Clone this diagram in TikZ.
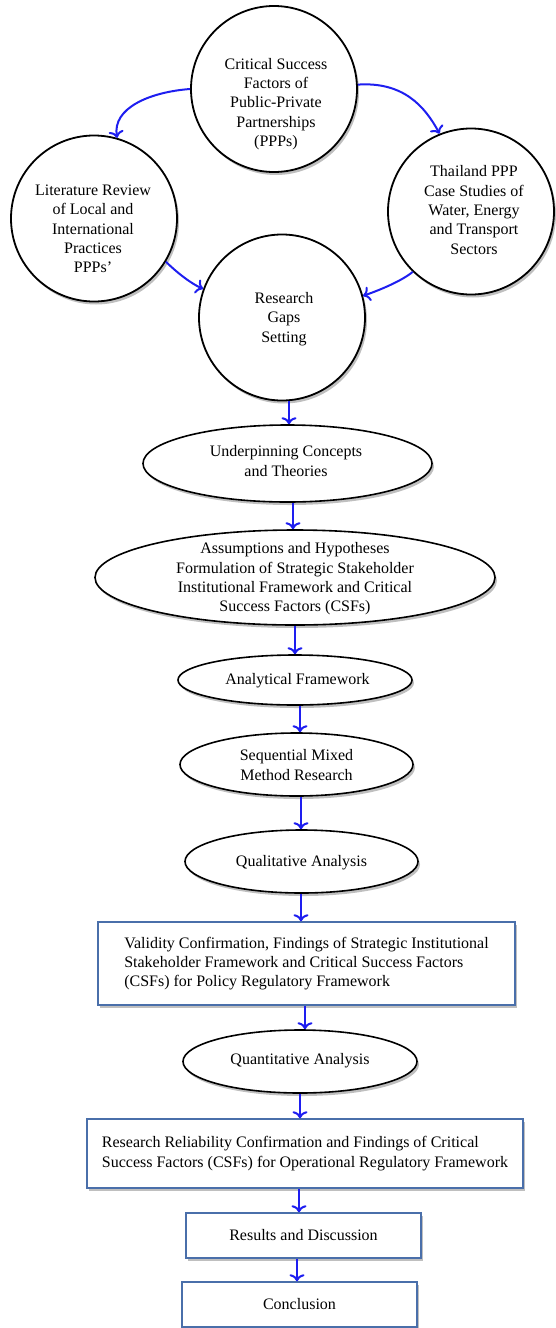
\documentclass[tikz,border=0pt]{standalone}
\usepackage{fontspec}
\setmainfont{Liberation Serif}
\usetikzlibrary{arrows.meta,shapes.geometric,shadows}
\definecolor{arrowblue}{RGB}{30,30,240}
\definecolor{boxblue}{RGB}{74,111,170}
\begin{document}
\begin{tikzpicture}[x=1pt,y=-1pt,
  font=\fontsize{16}{19.3}\selectfont,
  shad/.style={drop shadow={shadow xshift=2pt,shadow yshift=-3pt,opacity=0.25,fill=black}},
  circ/.style={circle,draw=black,line width=1.8pt,fill=white,minimum size=166pt,inner sep=0pt,shad},
  ell/.style={ellipse,draw=black,line width=1.6pt,fill=white,inner sep=0pt,shad},
  box/.style={rectangle,draw=boxblue,line width=1.5pt,fill=white,align=left,inner sep=0pt,shad},
  txt/.style={align=center,inner sep=0pt},
  arr/.style={draw=arrowblue,line width=2pt,-{To[length=7pt,width=15pt]}}
]
\useasboundingbox (0,0) rectangle (555,1328);

% circles
\node[circ] (T) at (274,89) {};
\node[circ] (L) at (94,218.5) {};
\node[circ] (R) at (471,211.5) {};
\node[circ] (G) at (282,317.5) {};
\node[txt] (Tt) at (276,104) {Critical Success\\Factors of\\Public-Private\\Partnerships\\(PPPs)};
\node[txt] (Lt) at (93,229) {Literature Review\\of Local and\\International\\Practices\\PPPs’};
\node[txt] (Rt) at (474,210) {Thailand PPP\\Case Studies of\\Water, Energy\\and Transport\\Sectors};
\node[txt] (Gt) at (284,319) {Research\\Gaps\\Setting};

\draw[arr] (T.180) .. controls +(-40,3) and +(-5,-30) .. (L.74);
\draw[arr] (T.3) .. controls +(45,-3) and +(-15,-28) .. (R.112);
\draw[arr] (L.-31) .. controls +(10,10) and +(-12,-5) .. (G.160);
\draw[arr] (R.226) .. controls +(-12,10) and +(12,-4) .. (G.15);

% ellipses and boxes
\node[ell,minimum width=289pt,minimum height=77pt] (E1) at (287.5,463.5) {};
\node[txt] (E1t) at (286,461) {Underpinning Concepts\\and Theories};
\node[ell,minimum width=400pt,minimum height=95pt] (E2) at (295,577.5) {};
\node[txt] (E2t) at (295,579) {Assumptions and Hypotheses\\Formulation of Strategic Stakeholder\\Institutional Framework and Critical\\Success Factors (CSFs)};
\node[ell,minimum width=234pt,minimum height=50pt] (E3) at (295,680) {};
\node[txt] (E3t) at (297.5,681) {Analytical Framework};
\node[ell,minimum width=233pt,minimum height=63pt] (E4) at (296.5,764.5) {};
\node[txt] (E4t) at (296.5,765) {Sequential Mixed\\Method Research};
\node[ell,minimum width=233pt,minimum height=63pt] (E5) at (301.5,861.5) {};
\node[txt] (E5t) at (301.5,863) {Qualitative Analysis};
\node[box,minimum width=417pt,minimum height=83pt] (B1) at (306.5,963.5) {Validity Confirmation, Findings of Strategic Institutional\\Stakeholder Framework and Critical Success Factors\\(CSFs) for Policy Regulatory Framework};
\node[ell,minimum width=234pt,minimum height=63pt] (E6) at (300,1061.5) {};
\node[txt] (E6t) at (300,1061) {Quantitative Analysis};
\node[box,minimum width=436pt,minimum height=69pt] (B2) at (305,1153.5) {Research Reliability Confirmation and Findings of Critical\\Success Factors (CSFs) for Operational Regulatory Framework};
\node[box,align=center,minimum width=235pt,minimum height=45pt] (B3) at (303.5,1235.5) {Results and Discussion};
\node[box,align=center,minimum width=235pt,minimum height=45pt] (B4) at (299.5,1304.5) {Conclusion};

\draw[arr] ([xshift=7pt]G.south) -- ([xshift=7pt]G.south |- E1.north);
\draw[arr] ([xshift=5.5pt]E1.south) -- ([xshift=5.5pt]E1.south |- E2.north);
\draw[arr] (E2.south) -- (E2.south |- E3.north);
\draw[arr] ([xshift=5pt]E3.south) -- ([xshift=5pt]E3.south |- E4.north);
\draw[arr] ([xshift=4.5pt]E4.south) -- ([xshift=4.5pt]E4.south |- E5.north);
\draw[arr] ([xshift=-0.5pt]E5.south) -- ([xshift=-0.5pt]E5.south |- B1.north);
\draw[arr] ([xshift=-1.5pt]B1.south) -- ([xshift=-1.5pt]B1.south |- E6.north);
\draw[arr] (E6.south) -- (E6.south |- B2.north);
\draw[arr] ([xshift=-6pt]B2.south) -- ([xshift=-6pt]B2.south |- B3.north);
\draw[arr] ([xshift=-6.5pt]B3.south) -- ([xshift=-6.5pt]B3.south |- B4.north);
\end{tikzpicture}
\end{document}
